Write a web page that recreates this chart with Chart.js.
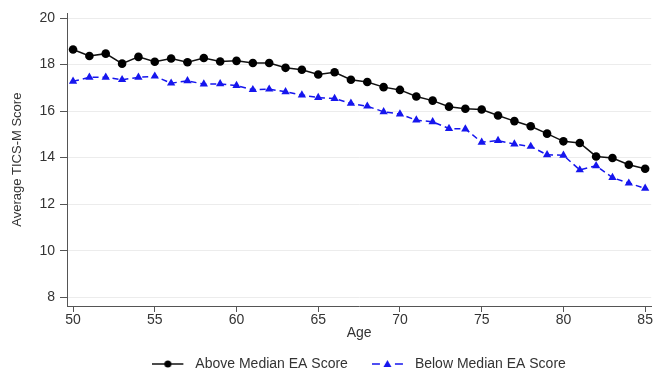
<!DOCTYPE html>
<html>
<head>
<meta charset="utf-8">
<script src="https://cdn.jsdelivr.net/npm/chart.js@4"></script>
<style>
  html, body { margin: 0; padding: 0; background: #fff; }
  #wrap { width: 656px; height: 377px; }
</style>
</head>
<body>
<div id="wrap"><canvas id="chart" width="656" height="377"></canvas></div>
<script>
// Data
const ages = [50, 51, 52, 53, 54, 55, 56, 57, 58, 59, 60, 61, 62, 63, 64, 65, 66, 67,
              68, 69, 70, 71, 72, 73, 74, 75, 76, 77, 78, 79, 80, 81, 82, 83, 84, 85];
const aboveMedian = [18.65, 18.37, 18.47, 18.04, 18.33, 18.12, 18.26, 18.10, 18.28, 18.13,
                     18.16, 18.07, 18.07, 17.86, 17.78, 17.57, 17.67, 17.35, 17.25, 17.03,
                     16.91, 16.63, 16.45, 16.19, 16.10, 16.07, 15.81, 15.57, 15.35, 15.03,
                     14.70, 14.63, 14.05, 13.98, 13.69, 13.52];
const belowMedian = [17.28, 17.45, 17.45, 17.35, 17.45, 17.50, 17.20, 17.30, 17.16, 17.17,
                     17.10, 16.92, 16.94, 16.83, 16.69, 16.58, 16.54, 16.33, 16.21, 15.97,
                     15.87, 15.61, 15.54, 15.25, 15.23, 14.66, 14.73, 14.58, 14.48, 14.12,
                     14.10, 13.47, 13.65, 13.14, 12.90, 12.68];
const xTicks = [50, 55, 60, 65, 70, 75, 80, 85];
const yTicks = [8, 10, 12, 14, 16, 18, 20];

const BLUE = '#1616ee';
const FONT = "'Liberation Sans', Arial, sans-serif";

// little legend glyphs: line + marker, like the original key
function legendGlyph(kind) {
  const c = document.createElement('canvas');
  c.width = 36; c.height = 12;
  const g = c.getContext('2d');
  const x0 = 0, x1 = 31, cy = 6, cx = (x0 + x1) / 2;
  if (kind === 'circle') {
    g.strokeStyle = '#111'; g.lineWidth = 1.5;
    g.beginPath(); g.moveTo(x0, cy); g.lineTo(x1, cy); g.stroke();
    g.fillStyle = '#000';
    g.beginPath(); g.arc(cx, cy, 3.5, 0, Math.PI * 2); g.fill();
  } else {
    g.strokeStyle = BLUE; g.lineWidth = 1.5;
    g.beginPath(); g.moveTo(x0, cy); g.lineTo(x0 + 8, cy); g.moveTo(x1 - 8, cy); g.lineTo(x1, cy); g.stroke();
    g.fillStyle = BLUE;
    g.beginPath(); g.moveTo(cx, cy - 4); g.lineTo(cx + 4, cy + 3); g.lineTo(cx - 4, cy + 3); g.closePath(); g.fill();
  }
  return c;
}
const glyphs = [legendGlyph('circle'), legendGlyph('triangle')];

const ctx = document.getElementById('chart').getContext('2d');
new Chart(ctx, {
  type: 'line',
  data: {
    datasets: [
      {
        label: 'Above Median EA Score',
        data: ages.map((a, i) => ({ x: a, y: aboveMedian[i] })),
        borderColor: '#111',
        backgroundColor: '#000',
        borderWidth: 1.5,
        pointStyle: 'circle',
        pointRadius: 4.3,
        pointBorderWidth: 0,
        tension: 0
      },
      {
        label: 'Below Median EA Score',
        data: ages.map((a, i) => ({ x: a, y: belowMedian[i] })),
        borderColor: BLUE,
        backgroundColor: BLUE,
        borderWidth: 1.5,
        borderDash: [6, 4],
        pointStyle: 'triangle',
        pointRadius: 4.8,
        pointBorderWidth: 0,
        tension: 0
      }
    ]
  },
  options: {
    responsive: false,
    animation: false,
    layout: { padding: { top: 10, right: 2, left: 0, bottom: -4 } },
    plugins: {
      tooltip: { enabled: false },
      legend: {
        position: 'bottom',
        fullSize: false,
        labels: {
          usePointStyle: true,
          pointStyleWidth: 36,
          padding: 24,
          color: '#333',
          font: { family: FONT, size: 14 },
          generateLabels: (chart) => chart.data.datasets.map((ds, i) => ({
            text: ds.label,
            pointStyle: glyphs[i],
            fillStyle: ds.backgroundColor,
            strokeStyle: ds.borderColor,
            lineWidth: 0,
            fontColor: '#333',
            datasetIndex: i
          }))
        }
      }
    },
    scales: {
      x: {
        type: 'linear',
        min: 49.63,
        max: 85.37,
        afterBuildTicks: (s) => { s.ticks = xTicks.map(v => ({ value: v })); },
        afterFit: (s) => { s.height = 27; },
        grid: { drawOnChartArea: false, tickLength: 6, tickColor: '#555' },
        border: { color: '#555', width: 1 },
        ticks: { color: '#333', padding: 0, maxRotation: 0, font: { family: FONT, size: 14 } },
        title: { display: true, text: 'Age', color: '#333', padding: { top: 0, bottom: -9 }, font: { family: FONT, size: 14 } }
      },
      y: {
        min: 7.62,
        max: 20.2,
        afterBuildTicks: (s) => { s.ticks = yTicks.map(v => ({ value: v })); },
        afterFit: (s) => { s.width = 67; },
        grid: { color: '#ececec', lineWidth: 1, tickLength: 7, tickColor: '#555' },
        border: { color: '#555', width: 1 },
        ticks: { color: '#333', padding: 5, font: { family: FONT, size: 14 } },
        title: { display: true, text: 'Average TICS-M Score', color: '#333', padding: { top: 10, bottom: 4 }, font: { family: FONT, size: 13 } }
      }
    }
  }
});
</script>
</body>
</html>
